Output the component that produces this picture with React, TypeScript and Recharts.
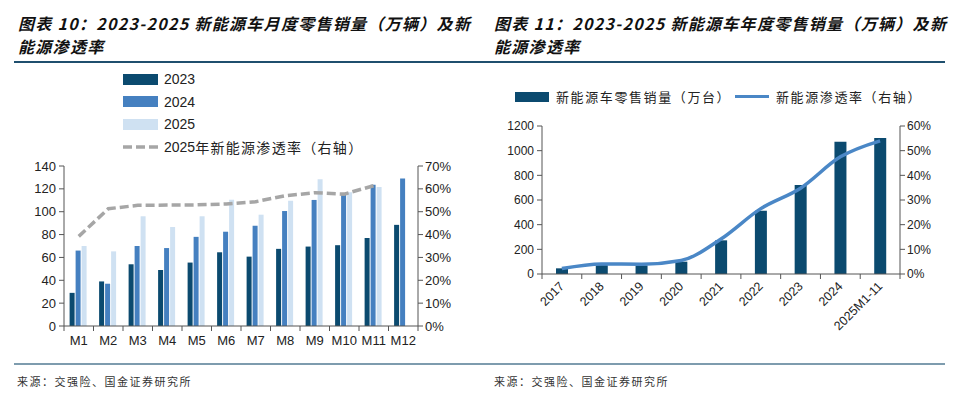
import React from "react";
import {
  ComposedChart,
  Bar,
  Line,
  XAxis,
  YAxis,
  Legend,
} from "recharts";

// monthly chart (left)
const months = ["M1", "M2", "M3", "M4", "M5", "M6", "M7", "M8", "M9", "M10", "M11", "M12"];
const sales2023 = [29, 39, 54, 49, 55.5, 64.5, 60.7, 67.5, 69.5, 70.7, 77, 88.5];
const sales2024 = [66, 37, 70, 68.2, 78, 82.5, 87.8, 100.6, 110.3, 115.5, 123.6, 129];
const sales2025 = [70, 65.3, 96, 86.6, 96, 110.5, 97.4, 109.6, 128.3, 117, 121.6, null];
const penetration2025 = [39.2, 51.3, 52.8, 52.9, 53.0, 53.4, 54.4, 57.0, 58.3, 57.7, 61.4, null];
const leftTicks = [0, 20, 40, 60, 80, 100, 120, 140];
const rightTicksMonthly = [0, 0.1, 0.2, 0.3, 0.4, 0.5, 0.6, 0.7];

// yearly chart (right)
const years = ["2017", "2018", "2019", "2020", "2021", "2022", "2023", "2024", "2025M1-11"];
const yearSales = [46, 72, 70, 100, 273, 513, 722, 1073, 1103];
const yearPenetration = [2.2, 4.1, 4.0, 5.5, 14.2, 26.5, 34.8, 47.5, 54];
const yearLeftTicks = [0, 200, 400, 600, 800, 1000, 1200];
const yearRightTicks = [0, 0.1, 0.2, 0.3, 0.4, 0.5, 0.6];

const monthlyData = months.map((m, i) => ({
  month: m,
  y2023: sales2023[i],
  y2024: sales2024[i],
  y2025: sales2025[i],
  rate: penetration2025[i] == null ? null : (penetration2025[i] as number) / 100,
}));

const yearlyData = years.map((y, i) => ({
  year: y,
  sales: yearSales[i],
  rate: yearPenetration[i] / 100,
}));

const C2023 = "#0b4a6f";
const C2024 = "#4580c0";
const C2025 = "#cfe1f2";
const DASH = "#a6a6a6";
const LINE = "#4a87c6";
const AXIS = "#555";

const NUM_FONT = "'Liberation Sans', Arial, sans-serif";
const CJK_FONT = "'Noto Sans CJK SC', 'Noto Sans', sans-serif";

const pct = (v: number) => `${Math.round(v * 100)}%`;

function MonthTick(props: any) {
  const { x, y, payload, index } = props;
  const half = 354 / 12 / 2;
  return (
    <g>
      <line x1={x - half} y1={y} x2={x - half} y2={y + 5} stroke={AXIS} />
      {index === months.length - 1 && (
        <line x1={x + half} y1={y} x2={x + half} y2={y + 5} stroke={AXIS} />
      )}
      <text x={x} y={y + 10} dy="0.71em" textAnchor="middle" fill="#222" fontSize={13} fontFamily={NUM_FONT}>
        {payload.value}
      </text>
    </g>
  );
}

function YearTick(props: any) {
  const { x, y, payload, index } = props;
  const half = 358 / 9 / 2;
  return (
    <g>
      <line x1={x - half} y1={y} x2={x - half} y2={y + 5} stroke={AXIS} />
      {index === years.length - 1 && (
        <line x1={x + half} y1={y} x2={x + half} y2={y + 5} stroke={AXIS} />
      )}
      <text
        x={x + 3}
        y={y + 13}
        textAnchor="end"
        fill="#222"
        fontSize={12.5}
        fontFamily={NUM_FONT}
        transform={`rotate(-45 ${x + 3} ${y + 13})`}
      >
        {payload.value}
      </text>
    </g>
  );
}

function MonthlyLegend() {
  const rows = [
    { label: "2023", color: C2023 },
    { label: "2024", color: C2024 },
    { label: "2025", color: C2025 },
  ];
  return (
    <div style={{ fontFamily: NUM_FONT, fontSize: 14, color: "#222" }}>
      {rows.map((r) => (
        <div key={r.label} style={{ display: "flex", alignItems: "center", height: 22.5 }}>
          <span style={{ width: 35, height: 11, background: r.color, marginRight: 6 }} />
          <span>{r.label}</span>
        </div>
      ))}
      <div style={{ display: "flex", alignItems: "center", height: 22.5 }}>
        <svg width={35} height={6} style={{ marginRight: 6 }}>
          <line x1={0} y1={3} x2={35} y2={3} stroke={DASH} strokeWidth={3.5} strokeDasharray="9 4" />
        </svg>
        <span>2025</span>
        <span style={{ fontFamily: CJK_FONT, letterSpacing: 1.3 }}>年新能源渗透率（右轴）</span>
      </div>
    </div>
  );
}

function YearlyLegend() {
  return (
    <div style={{ display: "flex", alignItems: "center", fontFamily: CJK_FONT, fontSize: 13, color: "#222", letterSpacing: 1.6 }}>
      <span style={{ width: 34, height: 10, background: C2023, marginRight: 7 }} />
      <span style={{ width: 179 }}>新能源车零售销量（万台）</span>
      <span style={{ width: 34, height: 3.5, background: LINE, marginRight: 7 }} />
      <span>新能源渗透率（右轴）</span>
    </div>
  );
}

const titleStyle: React.CSSProperties = {
  position: "absolute",
  fontFamily: CJK_FONT,
  fontWeight: 700,
  fontStyle: "italic",
  fontSize: 16,
  letterSpacing: 1.3,
  lineHeight: "22px",
  color: "#111",
  whiteSpace: "nowrap",
};

const sourceStyle: React.CSSProperties = {
  position: "absolute",
  top: 373,
  fontFamily: CJK_FONT,
  fontSize: 11,
  letterSpacing: 1.5,
  color: "#333",
};

export default function App() {
  return (
    <div style={{ position: "absolute", left: 0, top: 0, width: 963, height: 399, background: "#fff", overflow: "hidden" }}>
      <div style={{ ...titleStyle, left: 18, top: 12 }}>图表 10：2023-2025 新能源车月度零售销量（万辆）及新</div>
      <div style={{ ...titleStyle, left: 18, top: 35 }}>能源渗透率</div>
      <div style={{ ...titleStyle, left: 494, top: 12 }}>图表 11：2023-2025 新能源车年度零售销量（万辆）及新</div>
      <div style={{ ...titleStyle, left: 494, top: 35 }}>能源渗透率</div>
      <div style={{ position: "absolute", left: 14, top: 61, width: 931, height: 2, background: "#1f4f6e" }} />
      <div style={{ position: "absolute", left: 14, top: 363, width: 931, height: 2, background: "#7e9cae" }} />
      <div style={{ ...sourceStyle, left: 17 }}>来源：交强险、国金证券研究所</div>
      <div style={{ ...sourceStyle, left: 494 }}>来源：交强险、国金证券研究所</div>

      <div style={{ position: "absolute", left: 0, top: 66 }}>
        <ComposedChart
          width={480}
          height={294}
          data={monthlyData}
          margin={{ top: 100, right: 0, bottom: 4, left: 0 }}
          barCategoryGap="19%"
          barGap={1}
        >
          <XAxis
            dataKey="month"
            stroke={AXIS}
            tickLine={false}
            tickSize={0}
            tickMargin={0}
            height={30}
            interval={0}
            tick={<MonthTick />}
          />
          <YAxis
            yAxisId="left"
            width={64}
            domain={[0, 140]}
            ticks={leftTicks}
            stroke={AXIS}
            tickSize={5}
            tickMargin={3}
            tick={{ fill: "#222", fontSize: 13, fontFamily: NUM_FONT }}
          />
          <YAxis
            yAxisId="right"
            orientation="right"
            width={62}
            domain={[0, 0.7]}
            ticks={rightTicksMonthly}
            tickFormatter={pct}
            stroke={AXIS}
            tickSize={5}
            tickMargin={2}
            tick={{ fill: "#222", fontSize: 13, fontFamily: NUM_FONT }}
          />
          <Legend
            layout="horizontal"
            verticalAlign="middle"
            align="center"
            content={<MonthlyLegend />}
            wrapperStyle={{ top: 2, left: 123, width: 260 }}
          />
          <Bar yAxisId="left" dataKey="y2023" name="2023" fill={C2023} isAnimationActive={false} />
          <Bar yAxisId="left" dataKey="y2024" name="2024" fill={C2024} isAnimationActive={false} />
          <Bar yAxisId="left" dataKey="y2025" name="2025" fill={C2025} isAnimationActive={false} />
          <Line
            yAxisId="right"
            dataKey="rate"
            name="2025年新能源渗透率（右轴）"
            type="linear"
            stroke={DASH}
            strokeWidth={3.5}
            strokeDasharray="9 4"
            dot={false}
            isAnimationActive={false}
          />
        </ComposedChart>
      </div>

      <div style={{ position: "absolute", left: 480, top: 66 }}>
        <ComposedChart
          width={483}
          height={294}
          data={yearlyData}
          margin={{ top: 60, right: 0, bottom: 6, left: 0 }}
        >
          <XAxis
            dataKey="year"
            stroke={AXIS}
            tickLine={false}
            tickSize={0}
            tickMargin={0}
            height={80}
            interval={0}
            tick={<YearTick />}
          />
          <YAxis
            yAxisId="left"
            width={62}
            domain={[0, 1200]}
            ticks={yearLeftTicks}
            stroke={AXIS}
            tickSize={5}
            tickMargin={3}
            tick={{ fill: "#222", fontSize: 12, fontFamily: NUM_FONT }}
          />
          <YAxis
            yAxisId="right"
            orientation="right"
            width={63}
            domain={[0, 0.6]}
            ticks={yearRightTicks}
            tickFormatter={pct}
            stroke={AXIS}
            tickSize={5}
            tickMargin={2}
            tick={{ fill: "#222", fontSize: 12, fontFamily: NUM_FONT }}
          />
          <Legend
            layout="horizontal"
            verticalAlign="middle"
            align="center"
            content={<YearlyLegend />}
            wrapperStyle={{ top: 21, left: 35, width: 430 }}
          />
          <Bar yAxisId="left" dataKey="sales" name="新能源车零售销量（万台）" fill={C2023} barSize={12} isAnimationActive={false} />
          <Line
            yAxisId="right"
            dataKey="rate"
            name="新能源渗透率（右轴）"
            type="monotone"
            stroke={LINE}
            strokeWidth={3.5}
            dot={false}
            isAnimationActive={false}
          />
        </ComposedChart>
      </div>
    </div>
  );
}
